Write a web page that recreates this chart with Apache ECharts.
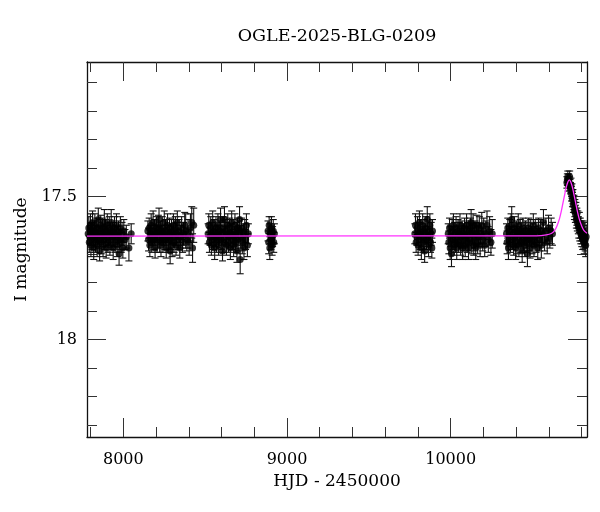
<!DOCTYPE html>
<html><head><meta charset="utf-8">
<script src="https://cdn.jsdelivr.net/npm/echarts@6/dist/echarts.min.js"></script>
<style>html,body{margin:0;padding:0;background:#fff}#c{width:600px;height:512px}</style>
</head><body><div id="c"></div>
<script>
const chartTitle = 'OGLE-2025-BLG-0209';
const xName = 'HJD - 2450000';
const yName = 'I magnitude';
const xMin = 7778, xMax = 10833;
const yMin = 17.028, yMax = 18.342;
const xMajorTicks = [8000, 9000, 10000];
const xMinorTicks = [7800, 8200, 8400, 8600, 8800, 9200, 9400, 9600, 9800, 10200, 10400, 10600, 10800];
const yMajorTicks = [17.5, 18];
const yMinorTicks = [17.1, 17.2, 17.3, 17.4, 17.6, 17.7, 17.8, 17.9, 18.1, 18.2, 18.3];

// [HJD-2450000, I mag, error]
const season1 = [[7785,17.63,.035],[7789,17.61,.04],[7792,17.66,.035],[7795,17.64,.03],[7799,17.60,.04],[7802,17.67,.04],[7805,17.62,.03],[7809,17.65,.035],[7812,17.59,.04],[7816,17.64,.03],[7819,17.68,.04],[7823,17.62,.035],[7826,17.60,.04],[7830,17.66,.035],[7833,17.63,.03],[7837,17.61,.035],[7840,17.67,.04],[7844,17.64,.035],[7847,17.58,.04],[7851,17.65,.03],[7855,17.69,.035],[7858,17.62,.04],[7862,17.60,.035],[7865,17.66,.04],[7869,17.63,.03],[7872,17.61,.035],[7876,17.67,.04],[7880,17.64,.035],[7884,17.59,.045],[7887,17.65,.035],[7891,17.62,.04],[7895,17.68,.035],[7898,17.63,.03],[7902,17.60,.04],[7906,17.66,.035],[7910,17.64,.03],[7914,17.61,.04],[7918,17.67,.035],[7922,17.63,.04],[7926,17.59,.045],[7930,17.65,.035],[7934,17.62,.03],[7938,17.68,.04],[7942,17.64,.035],[7946,17.61,.04],[7950,17.66,.035],[7954,17.63,.03],[7958,17.60,.04],[7962,17.67,.04],[7966,17.64,.035],[7970,17.62,.035],[7974,17.70,.04],[7978,17.65,.035],[7982,17.61,.04],[7987,17.66,.035],[7992,17.63,.04],[7997,17.68,.035],[8003,17.62,.04],[8010,17.65,.035],[8018,17.64,.04],[8034,17.68,.045],[8048,17.63,.035]];
const season2 = [[8150,17.62,.035],[8154,17.65,.04],[8158,17.61,.035],[8162,17.67,.04],[8166,17.63,.03],[8170,17.60,.04],[8174,17.66,.035],[8178,17.64,.03],[8182,17.59,.04],[8186,17.65,.035],[8190,17.62,.04],[8194,17.68,.035],[8198,17.63,.03],[8202,17.61,.04],[8206,17.66,.035],[8210,17.64,.04],[8214,17.60,.035],[8218,17.58,.04],[8222,17.65,.045],[8226,17.62,.035],[8230,17.67,.04],[8234,17.63,.03],[8238,17.61,.04],[8242,17.66,.035],[8246,17.64,.03],[8250,17.59,.04],[8254,17.65,.035],[8258,17.62,.04],[8262,17.68,.035],[8266,17.63,.03],[8270,17.60,.04],[8274,17.66,.035],[8278,17.64,.04],[8282,17.61,.035],[8286,17.69,.045],[8290,17.65,.035],[8294,17.62,.04],[8298,17.67,.04],[8302,17.63,.035],[8306,17.60,.04],[8310,17.66,.035],[8314,17.64,.03],[8318,17.61,.04],[8322,17.67,.035],[8326,17.63,.04],[8330,17.59,.04],[8335,17.65,.035],[8340,17.62,.04],[8345,17.68,.035],[8350,17.64,.04],[8356,17.61,.04],[8362,17.66,.035],[8368,17.63,.04],[8375,17.60,.045],[8381,17.62,.06],[8388,17.65,.04],[8395,17.63,.05],[8402,17.66,.045],[8410,17.61,.05],[8418,17.59,.055],[8423,17.68,.05],[8430,17.60,.06]];
const season3 = [[8518,17.63,.035],[8522,17.60,.04],[8526,17.66,.035],[8530,17.64,.03],[8534,17.61,.04],[8538,17.67,.035],[8542,17.63,.04],[8546,17.59,.04],[8550,17.65,.035],[8554,17.62,.04],[8558,17.68,.04],[8562,17.64,.035],[8566,17.61,.04],[8570,17.66,.035],[8574,17.63,.03],[8578,17.60,.04],[8582,17.67,.035],[8586,17.64,.04],[8590,17.62,.035],[8594,17.58,.04],[8598,17.65,.035],[8602,17.63,.04],[8606,17.69,.035],[8610,17.61,.04],[8614,17.66,.035],[8618,17.58,.045],[8622,17.64,.035],[8626,17.62,.04],[8630,17.67,.035],[8634,17.63,.04],[8638,17.60,.04],[8642,17.66,.035],[8646,17.64,.04],[8650,17.61,.035],[8654,17.68,.04],[8658,17.63,.035],[8662,17.59,.04],[8666,17.65,.035],[8670,17.62,.04],[8674,17.67,.04],[8678,17.64,.035],[8682,17.60,.04],[8686,17.66,.035],[8690,17.63,.04],[8694,17.69,.04],[8698,17.61,.035],[8702,17.65,.04],[8706,17.62,.035],[8710,17.58,.045],[8714,17.72,.05],[8718,17.64,.04],[8722,17.61,.035],[8727,17.66,.04],[8732,17.63,.035],[8737,17.68,.04],[8742,17.62,.04],[8747,17.65,.035],[8752,17.60,.04],[8758,17.67,.04],[8764,17.63,.035]];
const season3b = [[8884,17.62,.035],[8888,17.66,.04],[8891,17.60,.03],[8895,17.68,.04],[8898,17.63,.035],[8902,17.65,.035],[8905,17.61,.04],[8909,17.67,.035],[8912,17.64,.035],[8916,17.62,.04],[8919,17.66,.035],[8923,17.63,.035]];
const season4 = [[9781,17.63,.035],[9785,17.60,.04],[9789,17.66,.035],[9793,17.64,.03],[9797,17.61,.04],[9801,17.67,.035],[9805,17.63,.04],[9809,17.59,.04],[9813,17.65,.035],[9817,17.62,.04],[9821,17.68,.04],[9825,17.64,.035],[9829,17.60,.04],[9833,17.66,.035],[9837,17.62,.04],[9841,17.69,.04],[9845,17.63,.035],[9849,17.61,.04],[9853,17.65,.035],[9857,17.58,.045],[9861,17.64,.035],[9865,17.67,.04],[9869,17.62,.035],[9873,17.60,.04],[9877,17.66,.035],[9881,17.63,.04],[9885,17.68,.035],[9889,17.62,.04]];
const season5 = [[9985,17.63,.035],[9989,17.66,.04],[9993,17.61,.035],[9997,17.68,.04],[10001,17.64,.035],[10005,17.70,.045],[10009,17.62,.04],[10013,17.65,.035],[10017,17.60,.04],[10021,17.67,.035],[10025,17.63,.04],[10029,17.66,.035],[10033,17.61,.04],[10037,17.68,.04],[10041,17.64,.035],[10045,17.62,.04],[10049,17.66,.035],[10053,17.63,.04],[10057,17.60,.04],[10061,17.67,.035],[10065,17.64,.04],[10069,17.62,.035],[10073,17.68,.04],[10077,17.63,.035],[10081,17.65,.04],[10085,17.61,.035],[10089,17.67,.04],[10093,17.64,.035],[10097,17.60,.04],[10101,17.66,.035],[10105,17.63,.04],[10109,17.68,.04],[10113,17.62,.035],[10117,17.65,.04],[10121,17.61,.035],[10125,17.59,.045],[10129,17.66,.04],[10133,17.63,.035],[10137,17.60,.04],[10141,17.67,.035],[10145,17.64,.04],[10149,17.62,.035],[10153,17.68,.04],[10157,17.63,.04],[10161,17.60,.035],[10165,17.66,.04],[10170,17.64,.035],[10175,17.61,.04],[10180,17.67,.04],[10185,17.63,.035],[10190,17.60,.045],[10196,17.65,.04],[10202,17.62,.045],[10208,17.67,.04],[10215,17.63,.045],[10222,17.60,.05],[10230,17.65,.045],[10238,17.62,.05],[10246,17.66,.045],[10254,17.63,.05]];
const season6 = [[10341,17.63,.035],[10345,17.66,.04],[10349,17.61,.035],[10353,17.68,.04],[10357,17.64,.035],[10361,17.62,.04],[10365,17.66,.035],[10369,17.60,.04],[10373,17.58,.045],[10377,17.65,.035],[10381,17.63,.04],[10385,17.67,.035],[10389,17.61,.04],[10393,17.64,.035],[10397,17.68,.04],[10401,17.62,.035],[10405,17.66,.04],[10409,17.63,.035],[10413,17.60,.04],[10417,17.67,.04],[10421,17.64,.035],[10425,17.62,.04],[10429,17.66,.035],[10433,17.63,.04],[10437,17.69,.04],[10441,17.61,.035],[10445,17.65,.04],[10449,17.63,.035],[10453,17.67,.04],[10457,17.62,.035],[10461,17.64,.04],[10465,17.66,.035],[10469,17.70,.045],[10473,17.63,.04],[10477,17.61,.035],[10481,17.65,.04],[10485,17.68,.035],[10489,17.62,.04],[10493,17.64,.035],[10497,17.66,.04],[10501,17.63,.035],[10505,17.60,.04],[10509,17.67,.04],[10513,17.64,.035],[10517,17.62,.04],[10522,17.66,.035],[10527,17.63,.04],[10532,17.68,.04],[10537,17.61,.035],[10542,17.65,.04],[10548,17.62,.04],[10554,17.67,.045],[10560,17.63,.04],[10567,17.59,.045],[10574,17.65,.04],[10582,17.62,.045],[10590,17.66,.04],[10598,17.61,.045],[10606,17.64,.04],[10614,17.62,.045],[10622,17.63,.04]];
const season7 = [[10710,17.45,.02],[10713,17.44,.02],[10716,17.43,.02],[10718,17.46,.02],[10721,17.44,.02],[10724,17.45,.02],[10727,17.43,.02],[10729,17.46,.02],[10732,17.47,.02],[10735,17.46,.025],[10738,17.49,.025],[10741,17.48,.025],[10744,17.51,.025],[10747,17.50,.025],[10750,17.53,.025],[10753,17.52,.025],[10756,17.55,.03],[10759,17.54,.03],[10762,17.56,.03],[10765,17.55,.03],[10768,17.58,.03],[10771,17.57,.03],[10774,17.59,.03],[10777,17.58,.03],[10780,17.60,.03],[10783,17.61,.035],[10786,17.59,.035],[10789,17.62,.035],[10792,17.61,.035],[10795,17.63,.035],[10798,17.62,.035],[10801,17.64,.035],[10804,17.63,.035],[10807,17.65,.035],[10810,17.62,.035],[10813,17.64,.04],[10816,17.66,.04],[10819,17.63,.04],[10822,17.65,.04],[10825,17.67,.04],[10828,17.64,.04]];

// model curve
const modelT =   [7778,  10525,  10585,  10615,  10635,  10650,  10665,  10675,  10685,  10695,  10705, 10715,  10725,  10735, 10745,  10755,  10765,  10775,  10785,  10800,  10815,  10833];
const modelMag = [17.638,17.637, 17.634, 17.629, 17.619, 17.602, 17.577, 17.553, 17.525, 17.497, 17.47, 17.45,  17.441, 17.45, 17.47,  17.497, 17.525, 17.553, 17.577, 17.602, 17.619, 17.628];

const FONT = 'DejaVu Serif';
const obs = [].concat(season1, season2, season3, season3b, season4, season5, season6, season7);
const model = modelT.map((t, i) => [t, modelMag[i]]);

function axis(kind, pos, ticks, len, opts) {
  const base = {
    type: 'value', position: pos, min: kind === 'x' ? xMin : yMin, max: kind === 'x' ? xMax : yMax,
    inverse: kind === 'y',
    splitLine: { show: false },
    axisLine: { show: !!opts.line, onZero: false, lineStyle: { color: '#111', width: 1.3 } },
    axisTick: { show: true, inside: true, length: len, customValues: ticks, lineStyle: { color: '#333', width: 1 } },
    axisLabel: opts.labels ? { show: true, customValues: ticks, fontFamily: FONT, fontSize: 16, color: '#000', margin: opts.margin,
      formatter: v => String(v) } : { show: false }
  };
  if (opts.name) {
    Object.assign(base, opts.name);
  }
  return base;
}

const chart = echarts.init(document.getElementById('c'), null, { renderer: 'canvas' });
chart.setOption({
  animation: false,
  backgroundColor: '#fff',
  title: { text: chartTitle, left: 337, top: 27, textAlign: 'center', padding: 0,
    textStyle: { fontFamily: FONT, fontSize: 17.5, fontWeight: 'normal', color: '#000' } },
  grid: { left: 87, right: 13, top: 62, bottom: 75, containLabel: false },
  xAxis: [
    axis('x', 'bottom', xMajorTicks, 19, { line: true, labels: true, margin: 15,
      name: { name: xName, nameLocation: 'middle', nameGap: 36, nameTextStyle: { fontFamily: FONT, fontSize: 17, color: '#000' } } }),
    axis('x', 'bottom', xMinorTicks, 10, {}),
    axis('x', 'top', xMajorTicks, 19, { line: true }),
    axis('x', 'top', xMinorTicks, 10, {})
  ],
  yAxis: [
    axis('y', 'left', yMajorTicks, 19, { line: true, labels: true, margin: 10,
      name: { name: yName, nameLocation: 'middle', nameGap: 51, nameRotate: 90, nameTextStyle: { fontFamily: FONT, fontSize: 17, color: '#000' } } }),
    axis('y', 'left', yMinorTicks, 10, {}),
    axis('y', 'right', yMajorTicks, 19, { line: true }),
    axis('y', 'right', yMinorTicks, 10, {})
  ],
  series: [
    {
      type: 'custom', xAxisIndex: 0, yAxisIndex: 0, data: obs, encode: { x: 0, y: 1 }, z: 1, clip: true,
      renderItem: function (params, api) {
        const t = api.value(0), m = api.value(1), e = api.value(2);
        const a = api.coord([t, m - e]), b = api.coord([t, m + e]);
        const w = 3.5, st = { stroke: '#111', lineWidth: 1.1 };
        return { type: 'group', children: [
          { type: 'line', shape: { x1: a[0], y1: a[1], x2: b[0], y2: b[1] }, style: st },
          { type: 'line', shape: { x1: a[0] - w, y1: a[1], x2: a[0] + w, y2: a[1] }, style: st },
          { type: 'line', shape: { x1: b[0] - w, y1: b[1], x2: b[0] + w, y2: b[1] }, style: st }
        ] };
      }
    },
    { type: 'scatter', xAxisIndex: 0, yAxisIndex: 0, data: obs.map(d => [d[0], d[1]]), symbol: 'circle', symbolSize: 7,
      itemStyle: { color: '#000' }, z: 2 },
    { type: 'line', xAxisIndex: 0, yAxisIndex: 0, data: model, smooth: 0.4, showSymbol: false,
      lineStyle: { color: '#ff33ff', width: 1.3 }, z: 3 }
  ]
});
</script></body></html>
